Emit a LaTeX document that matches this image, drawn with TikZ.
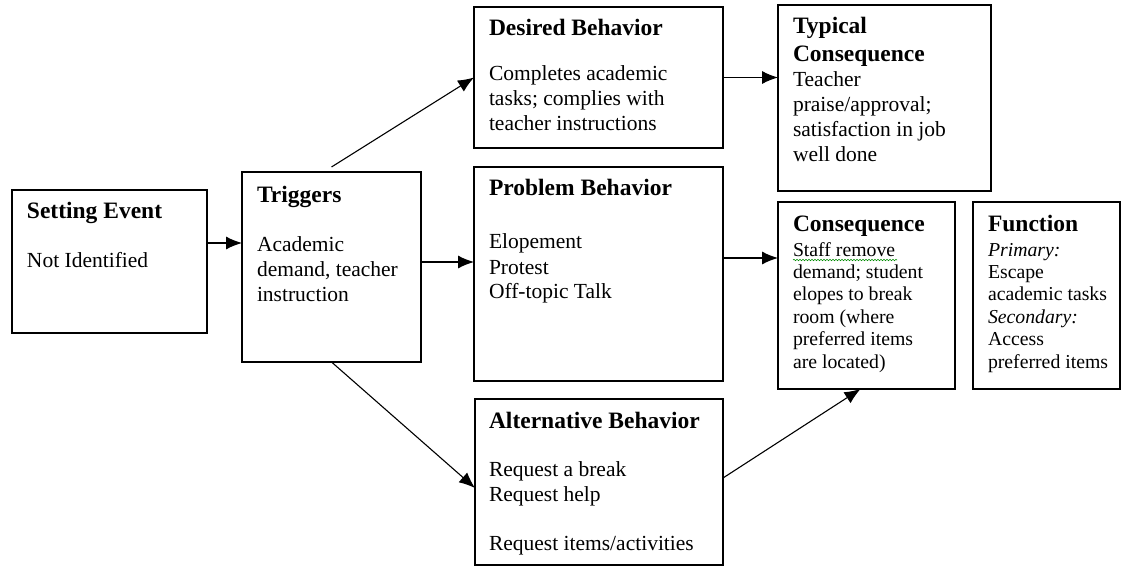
\documentclass[tikz,border=0pt]{standalone}
\usepackage{fontspec}
\setmainfont{Liberation Serif}
\usetikzlibrary{arrows.meta,decorations.pathmorphing}

\newcommand{\hd}[1]{{\bfseries\fontsize{23.5}{25}\selectfont #1}}
\newcommand{\bodyfont}{\fontsize{21.5}{25}\selectfont}
\newcommand{\smallbody}{\fontsize{19.75}{22.4}\selectfont}

\begin{document}
\begin{tikzpicture}[x=1pt,y=-1pt,>={Latex[length=16pt,width=13pt]},
	box/.style={draw,line width=1.3pt,rectangle,inner sep=0pt,outer sep=0pt,anchor=north west},
	txt/.style={anchor=base west,inner sep=0pt,outer sep=0pt},
	arr/.style={->,line width=1.1pt}]
	\useasboundingbox (0,0) rectangle (1122,567);

	% boxes
	\node[box,minimum width=195pt,minimum height=143pt] (SE) at (12,190) {};
	\node[box,minimum width=179pt,minimum height=190pt] (TR) at (242,172) {};
	\node[box,minimum width=249pt,minimum height=141pt] (DB) at (474,7) {};
	\node[box,minimum width=249pt,minimum height=214pt] (PB) at (474,167) {};
	\node[box,minimum width=248pt,minimum height=166pt] (AB) at (475,399) {};
	\node[box,minimum width=213pt,minimum height=186pt] (TC) at (778,5) {};
	\node[box,minimum width=177pt,minimum height=187pt] (CQ) at (778,202) {};
	\node[box,minimum width=147pt,minimum height=187pt] (FN) at (973,202) {};

	% texts
	\node[txt] (SEtext) at ([shift={(15,28)}]SE.north west)
		{\parbox[t]{175pt}{\bodyfont\hd{Setting Event}\\[24pt]Not Identified}};
	\node[txt] (TRtext) at ([shift={(15,30)}]TR.north west)
		{\parbox[t]{160pt}{\bodyfont\hd{Triggers}\\[24pt]Academic\\demand, teacher\\instruction}};
	\node[txt] (DBtext) at ([shift={(15,29)}]DB.north west)
		{\parbox[t]{230pt}{\bodyfont\hd{Desired Behavior}\\[20pt]Completes academic\\tasks; complies with\\teacher instructions}};
	\node[txt] (PBtext) at ([shift={(15,28)}]PB.north west)
		{\parbox[t]{230pt}{\bodyfont\hd{Problem Behavior}\\[29pt]Elopement\\Protest\\Off-topic Talk}};
	\node[txt] (ABtext) at ([shift={(14,29)}]AB.north west)
		{\parbox[t]{230pt}{\bodyfont\hd{Alternative Behavior}\\[23pt]Request a break\\Request help\\[24pt]Request items/activities}};
	\node[txt] (TCtext) at ([shift={(15,29)}]TC.north west)
		{\parbox[t]{195pt}{\bodyfont\hd{Typical}\\[3pt]\hd{Consequence}\\Teacher\\praise/approval;\\satisfaction in job\\well done}};
	\node[txt] (CQtext) at ([shift={(15,29)}]CQ.north west)
		{\parbox[t]{160pt}{\smallbody\hd{Consequence}\\[2.6pt]Staff remove\\demand; student\\elopes to break\\room (where\\preferred items\\are located)}};
	\node[txt] (FNtext) at ([shift={(15,29)}]FN.north west)
		{\parbox[t]{135pt}{\smallbody\hd{Function}\\[2.6pt]\textit{Primary:}\\Escape\\academic tasks\\\textit{Secondary:}\\Access\\preferred items}};

	% spell-check mark
	\draw[green!55!black,line width=0.6pt,decorate,decoration={snake,amplitude=0.7pt,segment length=3pt}]
		([shift={(15,58)}]CQ.north west) -- ([shift={(119,58)}]CQ.north west);

	% connectors
	\coordinate (SEout) at ([shift={(0,-18.5)}]SE.east);
	\coordinate (TRout) at ([shift={(0,-5)}]TR.east);
	\coordinate (TRtop) at ([shift={(0,-5)}]TR.north);
	\coordinate (PBout) at ([shift={(0,-16)}]PB.east);
	\coordinate (ABout) at ([shift={(0,-4)}]AB.east);
	\coordinate (ABin) at ([shift={(0,6)}]AB.west);
	\coordinate (CQin) at ([shift={(-6,0)}]CQ.south);

	\draw[arr] (SEout) -- (SEout -| TR.west);
	\draw[arr] (TRout) -- (TRout -| PB.west);
	\draw[arr] (TRtop) -- (DB.west);
	\draw[arr] (TR.south) -- (ABin);
	\draw[arr] (DB.east) -- (DB.east -| TC.west);
	\draw[arr] (PBout) -- (PBout -| CQ.west);
	\draw[arr] (ABout) -- (CQin);
\end{tikzpicture}
\end{document}
